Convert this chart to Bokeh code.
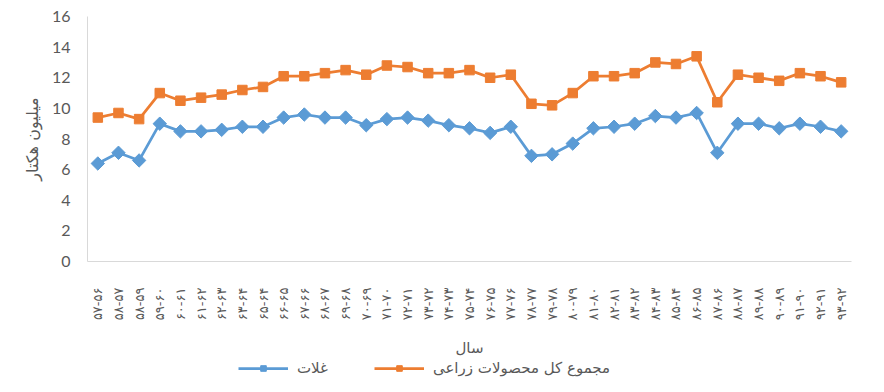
import math
from bokeh.plotting import figure
from bokeh.layouts import column
from bokeh.models import FactorRange, Range1d, FixedTicker, Legend, LegendItem
from bokeh.embed import file_html
from bokeh.resources import INLINE

years = ["۵۷-۵۶", "۵۸-۵۷", "۵۸-۵۹", "۵۹-۶۰", "۶۰-۶۱", "۶۱-۶۲", "۶۲-۶۳", "۶۳-۶۴",
         "۶۵-۶۴", "۶۶-۶۵", "۶۷-۶۶", "۶۸-۶۷", "۶۹-۶۸", "۷۰-۶۹", "۷۱-۷۰", "۷۲-۷۱",
         "۷۳-۷۲", "۷۴-۷۳", "۷۵-۷۴", "۷۶-۷۵", "۷۷-۷۶", "۷۸-۷۷", "۷۹-۷۸", "۸۰-۷۹",
         "۸۱-۸۰", "۸۲-۸۱", "۸۳-۸۲", "۸۴-۸۳", "۸۵-۸۴", "۸۶-۸۵", "۸۷-۸۶", "۸۸-۸۷",
         "۸۹-۸۸", "۹۰-۸۹", "۹۱-۹۰", "۹۲-۹۱", "۹۳-۹۲"]

cereals = [6.4, 7.1, 6.6, 9.0, 8.5, 8.5, 8.6, 8.8, 8.8, 9.4, 9.6, 9.4, 9.4, 8.9,
           9.3, 9.4, 9.2, 8.9, 8.7, 8.4, 8.8, 6.9, 7.0, 7.7, 8.7, 8.8, 9.0, 9.5,
           9.4, 9.7, 7.1, 9.0, 9.0, 8.7, 9.0, 8.8, 8.5]

total = [9.4, 9.7, 9.3, 11.0, 10.5, 10.7, 10.9, 11.2, 11.4, 12.1, 12.1, 12.3, 12.5,
         12.2, 12.8, 12.7, 12.3, 12.3, 12.5, 12.0, 12.2, 10.3, 10.2, 11.0, 12.1, 12.1,
         12.3, 13.0, 12.9, 13.4, 10.4, 12.2, 12.0, 11.8, 12.3, 12.1, 11.7]

y_ticks = [0, 2, 4, 6, 8, 10, 12, 14, 16]

series_names = ["غلات", "مجموع کل محصولات زراعی"]
y_title = "میلیون هکتار"
x_title = "سال"

BLUE = "#5B9BD5"
ORANGE = "#ED7D31"
GREY_TXT = "#595959"
AXIS = "#D9D9D9"
FA_FONT = "DejaVu Sans"


def draw_series(fig):
    a = fig.line(x=years, y=cereals, line_color=BLUE, line_width=2.75)
    b = fig.scatter(x=years, y=cereals, marker="square", angle=math.pi / 4, size=9.5,
                    fill_color=BLUE, line_color=BLUE)
    c = fig.line(x=years, y=total, line_color=ORANGE, line_width=2.75)
    d = fig.scatter(x=years, y=total, marker="square", size=9.5,
                    fill_color=ORANGE, line_color=ORANGE)
    return a, b, c, d


p = figure(x_range=FactorRange(factors=years, range_padding=0),
           y_range=Range1d(0, 16),
           frame_width=764, frame_height=245,
           output_backend="svg", toolbar_location=None,
           min_border_left=87, min_border_right=25,
           min_border_top=16, min_border_bottom=0)

p.outline_line_color = None
p.xgrid.visible = False
p.ygrid.visible = False
draw_series(p)

# y axis
p.yaxis.ticker = FixedTicker(ticks=y_ticks)
p.yaxis.axis_line_color = AXIS
p.yaxis.major_tick_line_color = None
p.yaxis.minor_tick_line_color = None
p.yaxis.major_label_text_font = "Lato"
p.yaxis.major_label_text_font_size = "16px"
p.yaxis.major_label_text_color = GREY_TXT
p.yaxis.major_label_standoff = 11
p.yaxis.axis_label = y_title
p.yaxis.axis_label_text_font = FA_FONT
p.yaxis.axis_label_text_font_size = "16px"
p.yaxis.axis_label_text_font_style = "normal"
p.yaxis.axis_label_text_color = GREY_TXT
p.yaxis.axis_label_standoff = 7

# x axis
p.xaxis.axis_line_color = AXIS
p.xaxis.major_tick_line_color = None
p.xaxis.minor_tick_line_color = None
p.xaxis.major_label_orientation = math.pi / 2
p.xaxis.major_label_text_font = FA_FONT
p.xaxis.major_label_text_font_size = "13px"
p.xaxis.major_label_text_color = GREY_TXT
p.xaxis.major_label_standoff = 20
p.xaxis.axis_label = x_title
p.xaxis.axis_label_text_font = FA_FONT
p.xaxis.axis_label_text_font_size = "15px"
p.xaxis.axis_label_text_font_style = "normal"
p.xaxis.axis_label_text_color = GREY_TXT
p.xaxis.axis_label_standoff = 16

# legend strip below the chart (series drawn out of view, only the legend shows)
lg = figure(x_range=FactorRange(factors=years, range_padding=0),
            y_range=Range1d(100, 101),
            frame_width=868, frame_height=33,
            x_axis_type=None, y_axis_type=None,
            output_backend="svg", toolbar_location=None,
            min_border_left=0, min_border_right=0,
            min_border_top=0, min_border_bottom=0)
lg.outline_line_color = None
lg.xgrid.visible = False
lg.ygrid.visible = False
r1, s1, r2, s2 = draw_series(lg)

legend = Legend(items=[LegendItem(label=series_names[0], renderers=[r1, s1]),
                       LegendItem(label=series_names[1], renderers=[r2, s2])],
                orientation="horizontal", location=(238, 16))
legend.label_text_font = FA_FONT
legend.label_text_font_size = "15px"
legend.label_text_color = GREY_TXT
legend.glyph_width = 50
legend.glyph_height = 14
legend.label_height = 16
legend.label_standoff = 9
legend.spacing = 46
legend.padding = 0
legend.margin = 0
legend.border_line_color = None
legend.background_fill_alpha = 0
lg.add_layout(legend, "center")

layout = column(p, lg, spacing=0)
open("out.html", "w").write(file_html(layout, INLINE))
